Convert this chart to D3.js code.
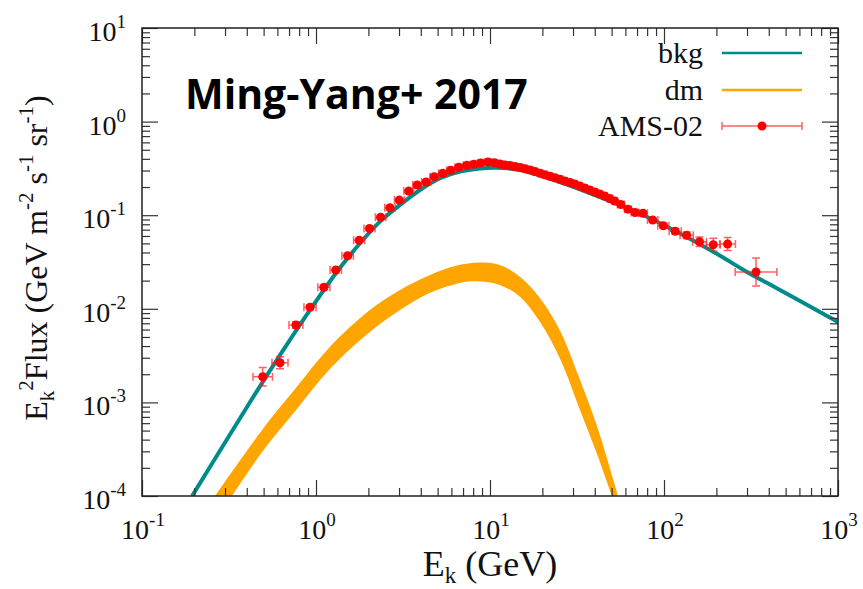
<!DOCTYPE html>
<html>
<head>
<meta charset="utf-8">
<script src="https://cdn.jsdelivr.net/npm/d3@7"></script>
<style>
  html, body { margin: 0; padding: 0; background: #fff; }
  svg { display: block; }
  .serif { font-family: "Liberation Serif", "DejaVu Serif", serif; fill: #111; }
</style>
</head>
<body>
<div id="chart"></div>
<script>
// AMS-02 positron points (GeV, E^2 flux)
const amsE = [0.494, 0.621, 0.767, 0.924, 1.11, 1.30, 1.52, 1.77, 2.03, 2.35,
  2.66, 3.01, 3.41, 3.82, 4.29, 4.77, 5.35, 5.94, 6.61, 7.35,
  8.09, 8.84, 9.74, 10.6, 11.4, 12.2, 13.0, 13.9, 14.9, 15.9,
  17.0, 18.1, 19.4, 20.7, 22.1, 23.6, 25.2, 26.9, 28.8, 30.7,
  32.8, 35.0, 37.4, 40.0, 42.7, 45.6, 48.7, 52.0, 56.5, 62.1,
  68.1, 75.7, 86.1, 99.1, 116, 135, 160, 192, 232, 338];
const amsFlux = [1.88e-3, 2.65e-3, 6.71e-3, 1.04e-2, 1.70e-2, 2.60e-2, 3.69e-2, 5.39e-2, 7.21e-2, 9.50e-2,
  0.120, 0.145, 0.181, 0.210, 0.226, 0.258, 0.280, 0.302, 0.325, 0.341,
  0.350, 0.361, 0.370, 0.364, 0.352, 0.344, 0.340, 0.331, 0.323, 0.314,
  0.304, 0.293, 0.280, 0.270, 0.261, 0.252, 0.242, 0.232, 0.224, 0.215,
  0.205, 0.195, 0.186, 0.177, 0.168, 0.160, 0.151, 0.142, 0.130, 0.116,
  0.107, 0.105, 0.0889, 0.0772, 0.0673, 0.0610, 0.0521, 0.0484, 0.0492, 0.0247];
// half widths of the error bars, in decades
const amsErrE = [0.056, 0.046, 0.040, 0.035, 0.035, 0.033, 0.033, 0.032, 0.032, 0.030,
  0.030, 0.028, 0.028, 0.026, 0.026, 0.024, 0.024, 0.022, 0.022, 0.020,
  0.020, 0.018, 0.018, 0.016, 0.015, 0.015, 0.015, 0.015, 0.015, 0.015,
  0.015, 0.015, 0.015, 0.015, 0.015, 0.015, 0.015, 0.015, 0.015, 0.015,
  0.015, 0.015, 0.015, 0.015, 0.015, 0.015, 0.015, 0.015, 0.020, 0.020,
  0.022, 0.025, 0.030, 0.032, 0.035, 0.038, 0.040, 0.040, 0.045, 0.120];
const amsErrF = [0.100, 0.065, 0.035, 0.025, 0.025, 0.022, 0.022, 0.020, 0.020, 0.020,
  0.018, 0.018, 0.018, 0.018, 0.018, 0.018, 0.018, 0.018, 0.018, 0.018,
  0.018, 0.018, 0.018, 0.018, 0.018, 0.018, 0.018, 0.018, 0.018, 0.018,
  0.018, 0.018, 0.018, 0.018, 0.020, 0.020, 0.020, 0.020, 0.020, 0.020,
  0.020, 0.020, 0.020, 0.020, 0.020, 0.020, 0.020, 0.020, 0.020, 0.020,
  0.020, 0.022, 0.022, 0.025, 0.030, 0.035, 0.050, 0.070, 0.070, 0.150];

// background curve
const bkgE = [0.194, 0.418, 0.581, 0.924, 1.32, 1.79, 2.33, 3.04, 3.96, 5.16, 6.72, 8.77, 10.8,
  14.9, 25.2, 42.9, 79.6, 192, 298, 464, 1000];
const bkgFlux = [1e-4, 1.01e-3, 2.64e-3, 9.71e-3, 2.49e-2, 5.01e-2, 8.53e-2, 0.129, 0.186, 0.248, 0.292, 0.315, 0.321,
  0.304, 0.226, 0.156, 0.0964, 0.0407, 0.0249, 0.0159, 7.23e-3];

// dark matter band: upper and lower edges
const dmUpE = [0.263, 0.490, 0.768, 1.20, 2.04, 3.04, 4.52, 6.29, 8.76, 11.4, 14.9, 19.4, 25.3, 32.9, 41.2, 51.6, 54.4];
const dmUpFlux = [1e-4, 5.07e-4, 1.43e-3, 3.91e-3, 9.71e-3, 1.59e-2, 2.30e-2, 2.87e-2, 3.13e-2, 2.94e-2, 2.19e-2, 1.30e-2, 5.79e-3, 1.74e-3, 5.60e-4, 1.41e-4, 1e-4];
const dmLoE = [0.329, 0.490, 0.768, 1.20, 2.04, 3.04, 4.52, 6.72, 8.76, 11.4, 14.9, 19.4, 25.3, 32.9, 41.2, 50.2];
const dmLoFlux = [1e-4, 2.95e-4, 8.30e-4, 2.27e-3, 5.65e-3, 9.71e-3, 1.48e-2, 1.89e-2, 1.96e-2, 1.80e-2, 1.34e-2, 7.23e-3, 2.91e-3, 8.30e-4, 2.81e-4, 1e-4];

const xDecades = [-1, 0, 1, 2, 3];
const yDecades = [-4, -3, -2, -1, 0, 1];
const legendLabels = ["bkg", "dm", "AMS-02"];

const width = 863, height = 589;
const mLeft = 142, mRight = 838, mTop = 28, mBottom = 496;
const teal = "#008b8b", orange = "#ffa500", red = "#ff0000";

const svg = d3.select("#chart").append("svg")
  .attr("width", width).attr("height", height);

const x = d3.scaleLog().domain([0.1, 1000]).range([mLeft, mRight]);
const y = d3.scaleLog().domain([1e-4, 10]).range([mBottom, mTop]);

svg.append("clipPath").attr("id", "plotclip")
  .append("rect").attr("x", mLeft).attr("y", mTop)
  .attr("width", mRight - mLeft).attr("height", mBottom - mTop);

const plot = svg.append("g").attr("clip-path", "url(#plotclip)");

// dm band: upper edge forward, lower edge back
const edge = d3.line().x(d => x(d[0])).y(d => y(d[1])).curve(d3.curveCatmullRom.alpha(0.5));
const upPts = dmUpE.map((e, i) => [e, dmUpFlux[i]]);
const loPts = dmLoE.map((e, i) => [e, dmLoFlux[i]]).reverse();
const upPath = edge(upPts);
const loPath = edge(loPts).replace(/^M/, "L");
plot.append("path")
  .attr("d", upPath + loPath + "Z")
  .attr("fill", orange);

// bkg curve
plot.append("path")
  .datum(bkgE.map((e, i) => [e, bkgFlux[i]]))
  .attr("d", edge)
  .attr("fill", "none")
  .attr("stroke", teal)
  .attr("stroke-width", 4);

// AMS-02 data
const pts = amsE.map((e, i) => ({ e, f: amsFlux[i], de: amsErrE[i], df: amsErrF[i] }));
const cap = 4;
const bars = plot.append("g")
  .attr("stroke", "#ff2020").attr("stroke-opacity", 0.7).attr("stroke-width", 1.5).attr("fill", "none");
pts.forEach(p => {
  const cx = x(p.e), cy = y(p.f);
  const x0 = x(p.e / Math.pow(10, p.de)), x1 = x(p.e * Math.pow(10, p.de));
  const y0 = y(p.f / Math.pow(10, p.df)), y1 = y(p.f * Math.pow(10, p.df));
  bars.append("path").attr("d",
    `M${x0},${cy}H${x1}M${x0},${cy - cap}V${cy + cap}M${x1},${cy - cap}V${cy + cap}` +
    `M${cx},${y0}V${y1}M${cx - cap},${y0}H${cx + cap}M${cx - cap},${y1}H${cx + cap}`);
});
plot.append("g").selectAll("circle")
  .data(pts).enter().append("circle")
  .attr("cx", d => x(d.e)).attr("cy", d => y(d.f))
  .attr("r", 4.5).attr("fill", red);

// ticks on all four sides, inward
const xMajor = xDecades.map(d => Math.pow(10, d));
const yMajor = yDecades.map(d => Math.pow(10, d));
const xMinor = x.ticks().filter(v => !xMajor.some(m => Math.abs(m - v) / m < 1e-6));
const yMinor = y.ticks().filter(v => !yMajor.some(m => Math.abs(m - v) / m < 1e-6));

function ticks(axis, vals, len, tr) {
  const g = svg.append("g").attr("transform", tr)
    .call(axis.tickValues(vals).tickSizeInner(-len).tickSizeOuter(0).tickFormat(""));
  g.select(".domain").remove();
  g.selectAll("line").attr("stroke", "#333").attr("stroke-width", 1.2);
}
ticks(d3.axisBottom(x), xMinor, 8, `translate(0,${mBottom})`);
ticks(d3.axisBottom(x), xMajor, 16, `translate(0,${mBottom})`);
ticks(d3.axisTop(x), xMinor, 8, `translate(0,${mTop})`);
ticks(d3.axisTop(x), xMajor, 16, `translate(0,${mTop})`);
ticks(d3.axisLeft(y), yMinor, 8, `translate(${mLeft},0)`);
ticks(d3.axisLeft(y), yMajor, 16, `translate(${mLeft},0)`);
ticks(d3.axisRight(y), yMinor, 8, `translate(${mRight},0)`);
ticks(d3.axisRight(y), yMajor, 16, `translate(${mRight},0)`);

svg.append("rect")
  .attr("x", mLeft).attr("y", mTop).attr("width", mRight - mLeft).attr("height", mBottom - mTop)
  .attr("fill", "none").attr("stroke", "#222").attr("stroke-width", 1.5);

// tick labels, 10^n
function powLabel(g, px, py, anchor, n) {
  const t = g.append("text").attr("class", "serif")
    .attr("x", px).attr("y", py).attr("text-anchor", anchor)
    .style("font-size", "28px");
  t.append("tspan").text("10");
  t.append("tspan").attr("dy", -13).style("font-size", "19px").text(n);
}
const labels = svg.append("g");
xDecades.forEach(d => powLabel(labels, x(Math.pow(10, d)) + 1, 539, "middle", d));
yDecades.forEach(d => powLabel(labels, 126, y(Math.pow(10, d)) + 13, "end", d));

// axis titles
const xt = svg.append("text").attr("class", "serif")
  .attr("x", 490).attr("y", 576).attr("text-anchor", "middle").style("font-size", "36px");
xt.append("tspan").text("E");
xt.append("tspan").attr("dy", 7).style("font-size", "23px").text("k");
xt.append("tspan").attr("dy", -7).text(" (GeV)");

const yt = svg.append("text").attr("class", "serif")
  .attr("transform", "translate(47,258) rotate(-90)")
  .attr("text-anchor", "middle").style("font-size", "32px");
yt.append("tspan").text("E");
yt.append("tspan").attr("dy", 7).style("font-size", "21px").text("k");
yt.append("tspan").attr("dy", -21).style("font-size", "21px").text("2");
yt.append("tspan").attr("dy", 14).text("Flux (GeV m");
yt.append("tspan").attr("dy", -14).style("font-size", "21px").text("-2");
yt.append("tspan").attr("dy", 14).text(" s");
yt.append("tspan").attr("dy", -14).style("font-size", "21px").text("-1");
yt.append("tspan").attr("dy", 14).text(" sr");
yt.append("tspan").attr("dy", -14).style("font-size", "21px").text("-1");
yt.append("tspan").attr("dy", 14).text(")");

// big title
svg.append("text")
  .attr("x", 185).attr("y", 109)
  .style("font-family", "'Open Sans', Lato, sans-serif")
  .style("font-weight", "bold").style("font-size", "41px")
  .attr("fill", "#000")
  .text("Ming-Yang+ 2017");

// legend
const legend = svg.append("g");
const legY = [53, 90, 126];
legendLabels.forEach((lab, i) => {
  legend.append("text").attr("class", "serif")
    .attr("x", 703).attr("y", legY[i] + 10).attr("text-anchor", "end")
    .style("font-size", "30px").text(lab);
});
legend.append("line").attr("x1", 722).attr("x2", 802).attr("y1", legY[0]).attr("y2", legY[0])
  .attr("stroke", teal).attr("stroke-width", 2.5);
legend.append("line").attr("x1", 722).attr("x2", 802).attr("y1", legY[1]).attr("y2", legY[1])
  .attr("stroke", orange).attr("stroke-width", 2.5);
legend.append("path")
  .attr("d", `M722,${legY[2]}H802M722,${legY[2] - cap}V${legY[2] + cap}M802,${legY[2] - cap}V${legY[2] + cap}`)
  .attr("stroke", "#ff2020").attr("stroke-opacity", 0.7).attr("stroke-width", 1.5).attr("fill", "none");
legend.append("circle").attr("cx", 762).attr("cy", legY[2]).attr("r", 4.5).attr("fill", red);
</script>
</body>
</html>
